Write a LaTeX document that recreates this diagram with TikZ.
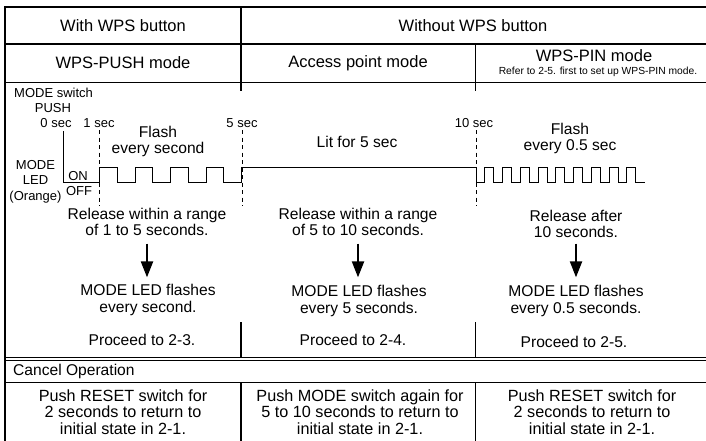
\documentclass[tikz,border=0pt]{standalone}
\usepackage{fontspec}
\setmainfont{Liberation Sans}
\usetikzlibrary{arrows.meta}
\tikzset{
  hdrtxt/.style={inner sep=0pt, align=center, font=\fontsize{16.5}{18}\selectfont},
  txt/.style={inner sep=0pt, align=center, font=\fontsize{15.6}{16.4}\selectfont},
  celltxt/.style={inner sep=0pt, align=center, font=\fontsize{16.2}{16.6}\selectfont},
  lbl/.style={inner sep=0pt, align=center, font=\fontsize{13}{15.5}\selectfont},
  notetxt/.style={inner sep=0pt, font=\fontsize{10.3}{12}\selectfont},
  secline/.style={line width=0.9pt, dash pattern=on 4pt off 3.5pt},
  sig/.style={line width=1pt},
  downarr/.style={-{Triangle[width=12pt,length=16pt]}, line width=2.2pt},
}
\begin{document}
\begin{tikzpicture}[x=1pt,y=-1pt]
\useasboundingbox (0,0) rectangle (706,441);
% frame and rules
\draw[line width=2.4pt] (5,441) -- (5,7) -- (706,7);
\draw[line width=1.6pt] (5,44) -- (706,44);
\draw[line width=1pt] (5,82.5) -- (706,82.5);
\draw[line width=2pt] (241,7) -- (241,91);
\draw[line width=1pt] (475,44) -- (475,91);
\draw[line width=1.6pt] (241,322) -- (241,357);
\draw[line width=1pt] (475,322) -- (475,357);
\draw[line width=0.8pt] (5,357) -- (706,357);
\draw[line width=0.8pt] (5,360.5) -- (706,360.5);
\draw[line width=1pt] (5,382.5) -- (706,382.5);
\draw[line width=1.6pt] (241,382.5) -- (241,441);
\draw[line width=1pt] (475,382.5) -- (475,441);
% headers
\node[hdrtxt] (withwps) at (123,25.5) {With WPS button};
\node[hdrtxt] (nowps) at (473,25.5) {Without WPS button};
\node[hdrtxt] (pushmode) at (123,63) {WPS-PUSH mode};
\node[hdrtxt] (apmode) at (358,63) {Access point mode};
\node[hdrtxt] (pinmode) at (594,56) {WPS-PIN mode};
\node[notetxt] (pinnote) at (598,72) {Refer to 2-5. first to set up WPS-PIN mode.};
% timing labels
\node[lbl, anchor=west] (modesw) at (14,93) {MODE switch};
\node[lbl] (push) at (53,108) {PUSH};
\node[lbl] (t0) at (56,123) {0 sec};
\node[lbl] (t1) at (99,123) {1 sec};
\node[lbl] (t5) at (242,123) {5 sec};
\node[lbl] (t10) at (474,123) {10 sec};
\node[lbl] (modeled) at (35.5,181.5) {MODE\\LED\\(Orange)};
\node[lbl] (on) at (78,176) {ON};
\node[lbl] (off) at (79,191) {OFF};
\node[txt] (flash1) at (158,141.5) {Flash\\every second};
\node[txt] (lit) at (357,142) {Lit for 5 sec};
\node[txt] (flash3) at (570,138.5) {Flash\\every 0.5 sec};
% dashed time marks
\draw[secline] (99.5,130) -- (99.5,206);
\draw[secline] (242,130) -- (242,206);
\draw[secline] (476,130) -- (476,206);
% LED signal
\draw[sig] (63,131) -- (63,182) -- (99.5,182) -- (99.5,167) -- (117.3,167) -- (117.3,182)
  -- (135,182) -- (135,167) -- (152.8,167) -- (152.8,182) -- (170.5,182) -- (170.5,167)
  -- (188.3,167) -- (188.3,182) -- (206,182) -- (206,167) -- (223.8,167) -- (223.8,182)
  -- (241.5,182) -- (241.5,167) -- (476,167) -- (476,182)
  -- (484.9,182) -- (484.9,167) -- (493.8,167) -- (493.8,182)
  -- (502.6,182) -- (502.6,167) -- (511.5,167) -- (511.5,182)
  -- (520.4,182) -- (520.4,167) -- (529.3,167) -- (529.3,182)
  -- (538.1,182) -- (538.1,167) -- (547.0,167) -- (547.0,182)
  -- (555.9,182) -- (555.9,167) -- (564.8,167) -- (564.8,182)
  -- (573.6,182) -- (573.6,167) -- (582.5,167) -- (582.5,182)
  -- (591.4,182) -- (591.4,167) -- (600.3,167) -- (600.3,182)
  -- (609.1,182) -- (609.1,167) -- (618.0,167) -- (618.0,182)
  -- (626.9,182) -- (626.9,167) -- (635.8,167) -- (635.8,182) -- (645,182);
% release / result
\node[txt] (rel1) at (147,222) {Release within a range\\of 1 to 5 seconds.};
\node[txt] (rel2) at (358,222) {Release within a range\\of 5 to 10 seconds.};
\node[txt] (rel3) at (576,224) {Release after\\10 seconds.};
\node[txt] (led1) at (148,300) {MODE LED flashes\\every second.};
\node[txt] (led2) at (359,301) {MODE LED flashes\\every 5 seconds.};
\node[txt] (led3) at (576,301) {MODE LED flashes\\every 0.5 seconds.};
\node[txt] (go1) at (142,340) {Proceed to 2-3.};
\node[txt] (go2) at (353,340) {Proceed to 2-4.};
\node[txt] (go3) at (574,342) {Proceed to 2-5.};
\draw[downarr, shorten <=7.5pt, shorten >=7pt] (rel1.south) -- (rel1.south |- led1.north);
\draw[downarr, shorten <=7.5pt, shorten >=8pt] (rel2.south) -- (rel2.south |- led2.north);
\draw[downarr, shorten <=5.5pt, shorten >=8pt] (rel3.south) -- (rel3.south |- led3.north);
% cancel operation
\node[txt, anchor=west] (cancel) at (13,371.5) {Cancel Operation};
\node[celltxt] (cancel1) at (123,412) {Push RESET switch for\\2 seconds to return to\\initial state in 2-1.};
\node[celltxt] (cancel2) at (360,412) {Push MODE switch again for\\5 to 10 seconds to return to\\initial state in 2-1.};
\node[celltxt] (cancel3) at (592,412) {Push RESET switch for\\2 seconds to return to\\initial state in 2-1.};
\end{tikzpicture}
\end{document}
